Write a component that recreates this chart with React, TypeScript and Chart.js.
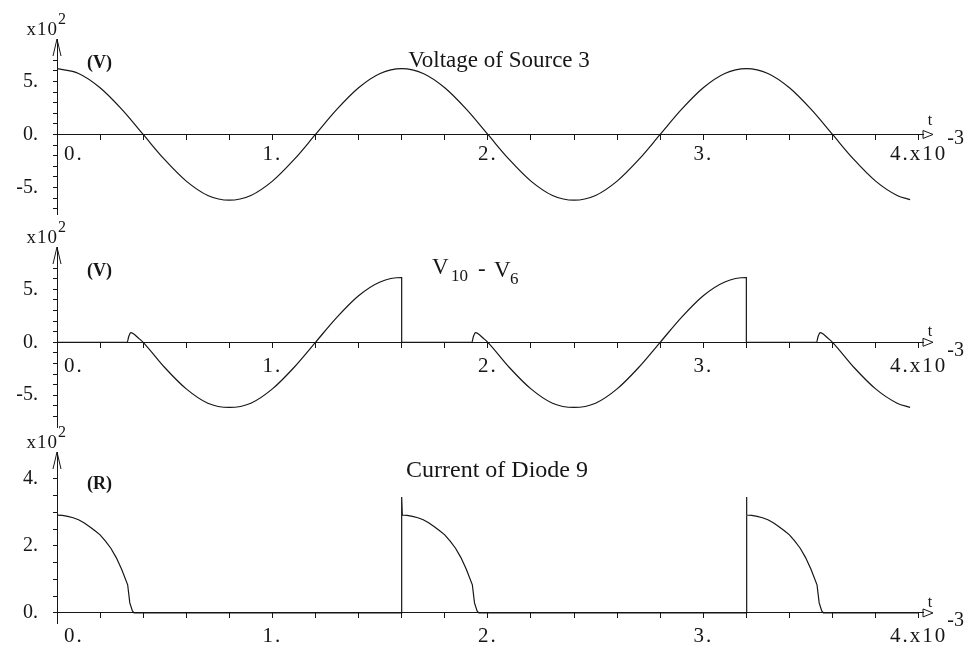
import React, { useEffect, useRef } from "react";
import { Chart, registerables } from "chart.js";

Chart.register(...registerables);

const INK = "#161616";
const SERIF = '"Liberation Serif", "Times New Roman", serif';

// ---------- axis ticks & labels ----------
const timeTicks = [0, 0.2, 0.4, 0.6, 0.8, 1, 1.2, 1.4, 1.6, 1.8, 2, 2.2, 2.4, 2.6, 2.8, 3, 3.2, 3.4, 3.6, 3.8, 4];
const timeLabelValues = [0, 1, 2, 3, 4];
const timeLabels = ["0.", "1.", "2.", "3.", "4.x10"];
const timeExponent = "-3";

const voltTicks = [-700, -600, -500, -400, -300, -200, -100, 0, 100, 200, 300, 400, 500, 600, 700];
const voltLabelValues = [500, 0, -500];
const voltLabels = ["5.", "0.", "-5."];

const currTicks = [0, 50, 100, 150, 200, 250, 300, 350, 400];
const currLabelValues = [400, 200, 0];
const currLabels = ["4.", "2.", "0."];

// ---------- series (time in ms, values in V / A) ----------
const sourceT = [0, 0.1, 0.2, 0.3, 0.4, 0.5, 0.6, 0.7, 0.8, 0.9, 1.0, 1.1, 1.2, 1.3, 1.4, 1.5, 1.6, 1.7, 1.8, 1.9, 2.0, 2.1, 2.2, 2.3, 2.4, 2.5, 2.6, 2.7, 2.8, 2.9, 3.0, 3.1, 3.2, 3.3, 3.4, 3.5, 3.6, 3.7, 3.8, 3.9, 3.96];
const sourceV = [620, 575, 440, 238, 0, -238, -440, -575, -620, -575, -440, -238, 0, 238, 440, 575, 620, 575, 440, 238, 0, -238, -440, -575, -620, -575, -440, -238, 0, 238, 440, 575, 620, 575, 440, 238, 0, -238, -440, -575, -615];

const diffT = [0, 0.326, 0.333, 0.343, 0.355, 0.37, 0.385, 0.4, 0.5, 0.6, 0.7, 0.8, 0.9, 1.0, 1.1, 1.2, 1.3, 1.4, 1.5, 1.6, 1.6, 1.926, 1.933, 1.943, 1.955, 1.97, 1.985, 2.0, 2.1, 2.2, 2.3, 2.4, 2.5, 2.6, 2.7, 2.8, 2.9, 3.0, 3.1, 3.2, 3.2, 3.526, 3.533, 3.543, 3.555, 3.57, 3.585, 3.6, 3.7, 3.8, 3.9, 3.96];
const diffV = [0, 0, 55, 92, 80, 55, 28, 0, -238, -440, -575, -615, -575, -440, -238, 0, 238, 440, 570, 612, 0, 0, 55, 92, 80, 55, 28, 0, -238, -440, -575, -615, -575, -440, -238, 0, 238, 440, 570, 612, 0, 0, 55, 92, 80, 55, 28, 0, -238, -440, -575, -615];

const currT = [
  0, 0.025, 0.05, 0.075, 0.1, 0.125, 0.15, 0.175, 0.2, 0.225, 0.25, 0.275, 0.3, 0.328, 0.338, 0.35, 0.358,
  1.6, 1.6, 1.603, 1.625, 1.65, 1.675, 1.7, 1.725, 1.75, 1.775, 1.8, 1.825, 1.85, 1.875, 1.9, 1.928, 1.938, 1.95, 1.958,
  3.2, 3.2, 3.203, 3.225, 3.25, 3.275, 3.3, 3.325, 3.35, 3.375, 3.4, 3.425, 3.45, 3.475, 3.5, 3.528, 3.538, 3.55, 3.558, 4.0,
];
const currA = [
  292, 291, 288, 284, 278, 269, 258, 246, 233, 214, 193, 165, 130, 84, 30, 6, 0,
  0, 346, 292, 291, 288, 284, 278, 269, 258, 246, 233, 214, 193, 165, 130, 84, 30, 6, 0,
  0, 346, 292, 291, 288, 284, 278, 269, 258, 246, 233, 214, 193, 165, 130, 84, 30, 6, 0, 0,
];

type Piece = { text: string; x: number; y: number; size: number; align: CanvasTextAlign };

type Panel = {
  t: number[];
  v: number[];
  smooth: boolean;
  padTop: number;
  padBottom: number;
  yMin: number;
  yMax: number;
  yTicks: number[];
  yLabelValues: number[];
  yLabels: string[];
  unit: string;
  unitDy: number;
  labelDrop: number;
  tRise: number;
  title: Piece[];
};

const panels: Panel[] = [
  {
    t: sourceT, v: sourceV, smooth: true,
    padTop: 39, padBottom: 439, yMin: -750, yMax: 900,
    yTicks: voltTicks, yLabelValues: voltLabelValues, yLabels: voltLabels,
    unit: "(V)", unitDy: 29, labelDrop: 20, tRise: 9,
    title: [{ text: "Voltage of Source 3", x: 499, y: 67, size: 23, align: "center" }],
  },
  {
    t: diffT, v: diffV, smooth: true,
    padTop: 247, padBottom: 226, yMin: -800, yMax: 900,
    yTicks: voltTicks, yLabelValues: voltLabelValues, yLabels: voltLabels,
    unit: "(V)", unitDy: 29, labelDrop: 24, tRise: 6,
    title: [
      { text: "V", x: 432, y: 274, size: 23, align: "left" },
      { text: "10", x: 451, y: 281, size: 17, align: "left" },
      { text: "-", x: 478, y: 276, size: 23, align: "left" },
      { text: "V", x: 494, y: 277, size: 23, align: "left" },
      { text: "6", x: 510, y: 284, size: 17, align: "left" },
    ],
  },
  {
    t: currT, v: currA, smooth: false,
    padTop: 452, padBottom: 30, yMin: -30, yMax: 480,
    yTicks: currTicks, yLabelValues: currLabelValues, yLabels: currLabels,
    unit: "(R)", unitDy: 37, labelDrop: 24, tRise: 6,
    title: [{ text: "Current of Diode 9", x: 497, y: 477, size: 24, align: "center" }],
  },
];

function makeDeco(p: Panel) {
  return {
    id: "deco",
    afterDraw(chart: any) {
      const ctx: CanvasRenderingContext2D = chart.ctx;
      const xs = chart.scales.x;
      const ys = chart.scales.y;
      const { top, right } = chart.chartArea;
      const x0 = xs.getPixelForValue(0);
      const y0 = ys.getPixelForValue(0);
      ctx.save();
      ctx.strokeStyle = INK;
      ctx.fillStyle = INK;
      ctx.lineWidth = 1;
      // y arrow head
      ctx.beginPath();
      ctx.moveTo(x0 - 4, top + 17);
      ctx.lineTo(x0, top);
      ctx.lineTo(x0 + 4, top + 17);
      ctx.stroke();
      // x arrow head
      ctx.beginPath();
      ctx.moveTo(right, y0 - 4);
      ctx.lineTo(right + 10, y0);
      ctx.lineTo(right, y0 + 4);
      ctx.closePath();
      ctx.stroke();
      // x labels
      (ctx as any).letterSpacing = "2px";
      ctx.font = `21px ${SERIF}`;
      ctx.textBaseline = "middle";
      const ly = y0 + p.labelDrop;
      let lastRight = 0;
      timeLabelValues.forEach((v, i) => {
        const px = xs.getPixelForValue(v);
        if (v === 0) {
          ctx.textAlign = "left";
          ctx.fillText(timeLabels[i], px + 7, ly);
        } else {
          ctx.textAlign = "center";
          ctx.fillText(timeLabels[i], px, ly);
          lastRight = px + ctx.measureText(timeLabels[i]).width / 2;
        }
      });
      (ctx as any).letterSpacing = "0px";
      ctx.textAlign = "left";
      ctx.font = `20px ${SERIF}`;
      ctx.fillText(timeExponent, lastRight, ly - 16);
      // t
      ctx.textBaseline = "alphabetic";
      ctx.textAlign = "center";
      ctx.font = `16px ${SERIF}`;
      ctx.fillText("t", right + 7, y0 - p.tRise);
      // x10^2
      (ctx as any).letterSpacing = "1px";
      ctx.font = `19px ${SERIF}`;
      ctx.textAlign = "right";
      ctx.fillText("x10", x0 + 1, top - 4);
      (ctx as any).letterSpacing = "0px";
      ctx.textAlign = "left";
      ctx.font = `16px ${SERIF}`;
      ctx.fillText("2", x0 + 1, top - 15);
      // unit
      ctx.font = `bold 18px ${SERIF}`;
      ctx.fillText(p.unit, x0 + 30, top + p.unitDy);
      // title
      p.title.forEach((piece) => {
        ctx.font = `${piece.size}px ${SERIF}`;
        ctx.textAlign = piece.align;
        ctx.fillText(piece.text, piece.x, piece.y);
      });
      ctx.restore();
    },
  };
}

function PanelChart({ panel }: { panel: Panel }) {
  const ref = useRef<HTMLCanvasElement>(null);
  useEffect(() => {
    const canvas = ref.current;
    if (!canvas) return;
    const chart = new Chart(canvas, {
      type: "line",
      data: {
        datasets: [
          {
            data: panel.t.map((t, i) => ({ x: t, y: panel.v[i] })),
            borderColor: INK,
            borderWidth: 1.2,
            pointRadius: 0,
            fill: false,
            tension: 0,
            cubicInterpolationMode: panel.smooth ? "monotone" : "default",
          },
        ],
      },
      options: {
        animation: false,
        responsive: false,
        devicePixelRatio: 1,
        events: [],
        layout: { padding: { left: 0, right: 47, top: panel.padTop, bottom: panel.padBottom } },
        plugins: { legend: { display: false }, tooltip: { enabled: false }, title: { display: false } },
        scales: {
          x: {
            type: "linear",
            position: { y: 0 } as any,
            min: 0,
            max: 4.02,
            afterBuildTicks: (s: any) => {
              s.ticks = timeTicks.map((v) => ({ value: v }));
            },
            ticks: { display: false, autoSkip: false },
            grid: { display: true, drawOnChartArea: false, drawTicks: true, tickLength: 5, color: INK, lineWidth: 1 },
            border: { display: true, color: INK, width: 1 },
          },
          y: {
            type: "linear",
            position: "left",
            min: panel.yMin,
            max: panel.yMax,
            afterBuildTicks: (s: any) => {
              s.ticks = panel.yTicks.map((v) => ({ value: v }));
            },
            afterFit: (s: any) => {
              s.width = 57;
            },
            ticks: {
              autoSkip: false,
              padding: 15,
              color: INK,
              font: { family: SERIF, size: 20 },
              callback: (value: any) => {
                const i = panel.yLabelValues.indexOf(Number(value));
                return i >= 0 ? panel.yLabels[i] : "";
              },
            },
            grid: { display: true, drawOnChartArea: false, drawTicks: true, tickLength: 4, color: INK, lineWidth: 1 },
            border: { display: true, color: INK, width: 1 },
          },
        },
      },
      plugins: [makeDeco(panel)],
    });
    return () => chart.destroy();
  }, [panel]);
  return (
    <canvas
      ref={ref}
      width={970}
      height={653}
      style={{ position: "absolute", left: 0, top: 0, width: 970, height: 653 }}
    />
  );
}

export default function App() {
  return (
    <div style={{ position: "absolute", left: 0, top: 0, width: 970, height: 653, background: "#fff", overflow: "hidden" }}>
      {panels.map((p, i) => (
        <PanelChart key={i} panel={p} />
      ))}
    </div>
  );
}
